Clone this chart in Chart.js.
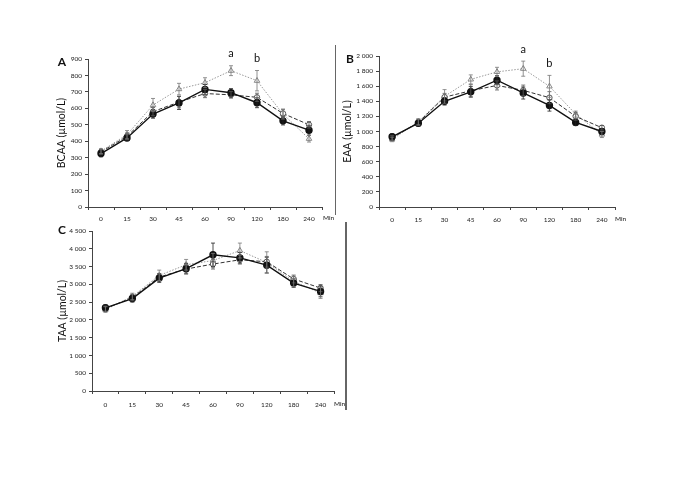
<!DOCTYPE html>
<html><head><meta charset="utf-8">
<script src="https://cdn.jsdelivr.net/npm/chart.js@4.4.0/dist/chart.umd.min.js"></script>
<style>
html,body{margin:0;padding:0;background:#fff;width:685px;height:484px;overflow:hidden}
canvas{position:absolute}
.sep{position:absolute;background:#666}
</style></head><body>
<canvas id="cA" width="340" height="230" style="left:0;top:0"></canvas>
<canvas id="cB" width="345" height="230" style="left:340px;top:0"></canvas>
<canvas id="cC" width="345" height="210" style="left:0;top:215px"></canvas>
<div class="sep" style="left:335px;top:45px;width:1px;height:170px"></div>
<div class="sep" style="left:345px;top:222px;width:1.5px;height:188px"></div>
<script>
// ---- data ----
const categories = ['0','15','30','45','60','90','120','180','240'];

const bcaaSolid  = [325, 420, 565, 633, 715, 695, 634, 524, 467];
const bcaaDashed = [335, 430, 580, 638, 690, 682, 667, 569, 500];
const bcaaDotted = [340, 440, 620, 717, 756, 829, 768, 565, 415];
const bcaaSolidErr  = [20, 15, 25, 40, 30, 25, 30, 25, 30];
const bcaaDashedErr = [15, 20, 25, 35, 25, 20, 25, 25, 20];
const bcaaDottedErr = [15, 25, 40, 35, 30, 30, 62, 30, 20];
const bcaaTicks = [0,100,200,300,400,500,600,700,800,900];

const eaaSolid  = [930, 1110, 1400, 1525, 1680, 1510, 1345, 1120, 1000];
const eaaDashed = [915, 1120, 1455, 1540, 1610, 1545, 1448, 1200, 1050];
const eaaDotted = [895, 1130, 1465, 1690, 1790, 1832, 1598, 1230, 960];
const eaaSolidErr  = [40, 40, 50, 70, 60, 80, 75, 40, 40];
const eaaDashedErr = [30, 40, 50, 80, 60, 70, 80, 50, 30];
const eaaDottedErr = [30, 40, 90, 60, 60, 100, 145, 40, 40];
const eaaTicks = [0,200,400,600,800,1000,1200,1400,1600,1800,2000];

const taaSolid  = [2340, 2600, 3175, 3440, 3830, 3745, 3540, 3035, 2800];
const taaDashed = [2315, 2630, 3205, 3430, 3570, 3690, 3635, 3150, 2895];
const taaDotted = [2290, 2660, 3250, 3550, 3670, 3950, 3615, 3080, 2755];
const taaSolidErr  = [80, 100, 120, 150, 330, 150, 220, 120, 150];
const taaDashedErr = [70, 90, 100, 120, 140, 120, 150, 110, 100];
const taaDottedErr = [80, 90, 150, 150, 200, 210, 300, 150, 150];
const taaTicks = [0,500,1000,1500,2000,2500,3000,3500,4000,4500];

const sigMarksA = [{index: 5, text: 'a'}, {index: 6, text: 'b'}];
const sigMarksB = [{index: 5, text: 'a'}, {index: 6, text: 'b'}];

// ---- plugins ----
const FONT = 'Lato, "Open Sans", sans-serif';
const errorBars = {
  id: 'errorBars',
  afterDatasetsDraw(chart) {
    const ctx = chart.ctx, y = chart.scales.y;
    chart.data.datasets.forEach((ds, i) => {
      if (!ds.errors) return;
      const meta = chart.getDatasetMeta(i);
      ctx.save();
      ctx.strokeStyle = ds.errorColor;
      ctx.lineWidth = 0.8;
      meta.data.forEach((pt, j) => {
        const v = ds.data[j], e = ds.errors[j];
        const yt = y.getPixelForValue(v + e), yb = y.getPixelForValue(v - e);
        ctx.beginPath();
        ctx.moveTo(pt.x, yt); ctx.lineTo(pt.x, yb);
        ctx.moveTo(pt.x - 2, yt); ctx.lineTo(pt.x + 2, yt);
        ctx.moveTo(pt.x - 2, yb); ctx.lineTo(pt.x + 2, yb);
        ctx.stroke();
      });
      ctx.restore();
    });
  }
};
const annot = {
  id: 'annot',
  afterDraw(chart, args, o) {
    const ctx = chart.ctx, y = chart.scales.y, area = chart.chartArea;
    ctx.save();
    ctx.fillStyle = '#111';
    ctx.textBaseline = 'middle';
    ctx.textAlign = 'center';
    ctx.font = 'bold 12px ' + FONT;
    ctx.fillText(o.letter, o.letterX, o.letterY);
    ctx.font = '6.5px ' + FONT;
    ctx.textAlign = 'left';
    ctx.fillText('Min', area.right + o.minDx, area.bottom + o.minDy);
    if (o.marks) {
      const ds = chart.data.datasets[2];
      const meta = chart.getDatasetMeta(2);
      ctx.font = '11px ' + FONT;
      ctx.textAlign = 'center';
      o.marks.forEach(m => {
        const py = y.getPixelForValue(ds.data[m.index] + ds.errors[m.index]) - 12;
        ctx.fillText(m.text, meta.data[m.index].x, py);
      });
    }
    ctx.restore();
  }
};

function fmt(v) { return String(v).replace(/\B(?=(\d{3})+(?!\d))/g, ' '); }

function makeChart(id, cfg) {
  const datasets = [
    {data: cfg.solid, errors: cfg.solidErr, errorColor: '#222', borderColor: '#111', borderWidth: 1.4,
     pointStyle: 'circle', pointRadius: 3, pointBackgroundColor: '#111', pointBorderColor: '#111', tension: 0},
    {data: cfg.dashed, errors: cfg.dashedErr, errorColor: '#555', borderColor: '#333', borderWidth: 1, borderDash: [4, 2],
     pointStyle: 'circle', pointRadius: 2.7, pointBackgroundColor: '#fff', pointBorderColor: '#555', pointBorderWidth: 1, tension: 0},
    {data: cfg.dotted, errors: cfg.dottedErr, errorColor: '#777', borderColor: '#999', borderWidth: 1, borderDash: [1.5, 1.5],
     pointStyle: 'triangle', pointRadius: 3.2, pointBackgroundColor: '#fff', pointBorderColor: '#888', pointBorderWidth: 1, tension: 0}
  ];
  return new Chart(document.getElementById(id), {
    type: 'line',
    data: {labels: categories, datasets},
    plugins: [errorBars, annot],
    options: {
      responsive: false, animation: false, devicePixelRatio: 1,
      layout: {padding: cfg.padding},
      plugins: {legend: {display: false}, tooltip: {enabled: false}, annot: cfg.annot},
      scales: {
        x: {
          offset: true,
          grid: {offset: true, drawOnChartArea: false, drawTicks: true, tickLength: 3, color: '#444'},
          border: {display: true, color: '#444', width: 1},
          ticks: {font: {size: 6.5, family: FONT}, color: '#222', padding: cfg.xPad, maxRotation: 0, autoSkip: false},
          afterFit: s => { s.height = cfg.xH; }
        },
        y: {
          min: cfg.ticks[0], max: cfg.ticks[cfg.ticks.length - 1],
          afterBuildTicks: s => { s.ticks = cfg.ticks.map(v => ({value: v})); },
          grid: {drawOnChartArea: false, drawTicks: true, tickLength: 3, color: '#444'},
          border: {display: true, color: '#444', width: 1},
          ticks: {font: {size: 6.5, family: FONT}, color: '#222', padding: 3, callback: v => fmt(v)},
          title: {display: true, text: cfg.title, font: {size: 10.5, family: FONT}, color: '#111',
                  padding: {top: cfg.titlePad, bottom: 0}},
          afterFit: s => { s.width = cfg.yW; }
        }
      }
    }
  });
}

makeChart('cA', {
  solid: bcaaSolid, dashed: bcaaDashed, dotted: bcaaDotted,
  solidErr: bcaaSolidErr, dashedErr: bcaaDashedErr, dottedErr: bcaaDottedErr,
  ticks: bcaaTicks, title: 'BCAA (µmol/L)', titlePad: 55.5,
  padding: {left: 0, top: 59, right: 18, bottom: 0}, yW: 88, xH: 23, xPad: 5,
  annot: {letter: 'A', letterX: 62, letterY: 62, minDx: 1, minDy: 11, marks: sigMarksA}
});
makeChart('cB', {
  solid: eaaSolid, dashed: eaaDashed, dotted: eaaDotted,
  solidErr: eaaSolidErr, dashedErr: eaaDashedErr, dottedErr: eaaDottedErr,
  ticks: eaaTicks, title: 'EAA (µmol/L)', titlePad: 1.7,
  padding: {left: 0, top: 56, right: 70, bottom: 0}, yW: 39, xH: 23, xPad: 6,
  annot: {letter: 'B', letterX: 10, letterY: 59, minDx: 0, minDy: 12, marks: sigMarksB}
});
makeChart('cC', {
  solid: taaSolid, dashed: taaDashed, dotted: taaDotted,
  solidErr: taaSolidErr, dashedErr: taaDashedErr, dottedErr: taaDottedErr,
  ticks: taaTicks, title: 'TAA (µmol/L)', titlePad: 56.5,
  padding: {left: 0, top: 16, right: 11, bottom: 0}, yW: 92, xH: 34, xPad: 7,
  annot: {letter: 'C', letterX: 62, letterY: 15, minDx: 0, minDy: 13, marks: null}
});
</script>
</body></html>
